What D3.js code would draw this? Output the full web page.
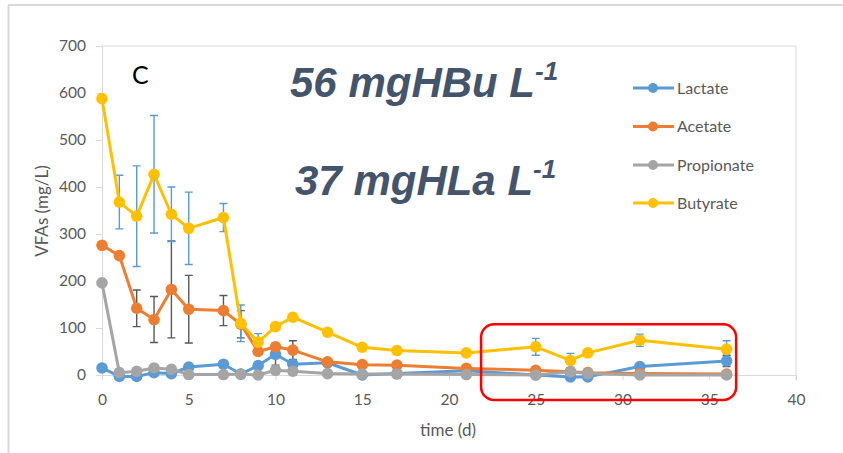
<!DOCTYPE html>
<html>
<head>
<meta charset="utf-8">
<script src="https://d3js.org/d3.v7.min.js"></script>
<style>
	body { margin: 0; background: #fff; }
	svg text { font-family: Lato, "Liberation Sans", sans-serif; }
</style>
</head>
<body>
<svg id="chart" width="843" height="453"></svg>
<script>
/* --------------------------------------------
 * VFAs over time, panel C
 * ============================================
 */

// data
// ==========
var days       = [0, 1, 2, 3, 4, 5, 7, 8, 9, 10, 11, 13, 15, 17, 21, 25, 27, 28, 31, 36];
var lactate    = [15, -3, -3, 5, 3, 17, 23, 2, 20, 44, 23, 26, 0, 3, 9, 0, -4, -4, 18, 30];
var acetate    = [276, 254, 142, 118, 182, 140, 137, 108, 50, 60, 53, 28, 22, 21, 14, 10, 7, 5, 3, 2];
var propionate = [196, 5, 8, 15, 12, 1, 1, 2, 0, 10, 8, 3, 2, 2, 1, 0, 7, 3, 0, 0];
var butyrate   = [588, 368, 338, 427, 342, 312, 335, 110, 70, 103, 123, 91, 59, 52, 47, 60, 31, 47, 74, 55];

// +/- error, null where the picture shows no bar
var lactateErr    = [null, null, null, null, null, null, null, null, null, 23, null, null, null, null, null, null, null, null, null, 12];
var acetateErr    = [null, null, 39, 49, 103, 72, 32, 29, null, null, 20, null, null, null, null, null, null, null, null, null];
var propionateErr = [null, null, null, null, null, null, null, null, null, null, null, null, null, null, null, null, null, null, null, null];
var butyrateErr   = [null, 57, 107, 125, 58, 77, 30, 39, 18, null, null, null, null, null, null, 18, 15, null, 13, 18];

var seriesNames = ["Lactate", "Acetate", "Propionate", "Butyrate"];
var xTicks = [0, 5, 10, 15, 20, 25, 30, 35, 40];
var yTicks = [0, 100, 200, 300, 400, 500, 600, 700];

var COLORS = ["#5B9BD5", "#ED7D31", "#A5A5A5", "#FFC000"];
var ERR_COLORS = ["#595959", "#595959", "#595959", "#5B9BD5"];
var AXIS_COLOR = "#D9D9D9";
var TEXT_COLOR = "#595959";

var series = [
	{ name: seriesNames[0], values: lactate, err: lactateErr },
	{ name: seriesNames[1], values: acetate, err: acetateErr },
	{ name: seriesNames[2], values: propionate, err: propionateErr },
	{ name: seriesNames[3], values: butyrate, err: butyrateErr }
];

var svg = d3.select("#chart");

var x = d3.scaleLinear().domain([0, 40]).range([102, 796]);
var y = d3.scaleLinear().domain([0, 700]).range([375, 46]);

// outer frame (only left and top edges are visible)
svg.append("line")
	.attr("x1", 8.5).attr("y1", 5).attr("x2", 8.5).attr("y2", 453)
	.attr("stroke", "#D9D9D9").attr("stroke-width", 2);
svg.append("line")
	.attr("x1", 8).attr("y1", 5).attr("x2", 843).attr("y2", 5)
	.attr("stroke", "#D9D9D9").attr("stroke-width", 2);

// plot area border: top and right
svg.append("path")
	.attr("d", "M" + x(0) + "," + y(700) + "H" + x(40) + "V" + (y(0) + 5))
	.attr("fill", "none")
	.attr("stroke", AXIS_COLOR)
	.attr("stroke-width", 1);

// axes
var yAxis = svg.append("g")
	.attr("transform", "translate(" + x(0) + ",0)")
	.call(d3.axisLeft(y).tickValues(yTicks).tickSize(6).tickSizeOuter(0).tickPadding(10));

var xAxis = svg.append("g")
	.attr("transform", "translate(0," + y(0) + ")")
	.call(d3.axisBottom(x).tickValues(xTicks).tickSize(5).tickSizeOuter(0).tickPadding(14));

[xAxis, yAxis].forEach(function(g) {
	g.select(".domain").attr("stroke", AXIS_COLOR);
	g.selectAll(".tick line").attr("stroke", AXIS_COLOR);
	g.selectAll(".tick text")
		.attr("fill", TEXT_COLOR)
		.style("font-size", "15.5px")
		.style("font-family", "Lato, sans-serif");
});

// axis titles
svg.append("text")
	.attr("x", 448).attr("y", 436)
	.attr("text-anchor", "middle")
	.attr("fill", TEXT_COLOR)
	.style("font-size", "17px")
	.text("time (d)");

svg.append("text")
	.attr("transform", "translate(48,211) rotate(-90)")
	.attr("text-anchor", "middle")
	.attr("fill", TEXT_COLOR)
	.style("font-size", "17px")
	.text("VFAs (mg/L)");

// error bars go under the lines
var CAP = 4;
series.forEach(function(s, k) {
	var g = svg.append("g").attr("class", "errBars");
	for (var i = 0, N = days.length; i < N; i++)
	{
		var e = s.err[i];
		if (e === null) continue;
		var cx = x(days[i]);
		var top = y(s.values[i] + e), bot = y(s.values[i] - e);
		g.append("path")
			.attr("d", "M" + cx + "," + top + "V" + bot +
				"M" + (cx - CAP) + "," + top + "H" + (cx + CAP) +
				"M" + (cx - CAP) + "," + bot + "H" + (cx + CAP))
			.attr("fill", "none")
			.attr("stroke", ERR_COLORS[k])
			.attr("stroke-width", 1.4);
	}
});

// lines and markers
var line = d3.line()
	.x(function(d) { return x(d[0]); })
	.y(function(d) { return y(d[1]); });

series.forEach(function(s, k) {
	var pts = days.map(function(d, i) { return [d, s.values[i]]; });
	var g = svg.append("g").attr("class", "series");
	g.append("path")
		.attr("d", line(pts))
		.attr("fill", "none")
		.attr("stroke", COLORS[k])
		.attr("stroke-width", 3)
		.attr("stroke-linejoin", "round");
	g.selectAll("circle").data(pts).enter()
		.append("circle")
		.attr("cx", function(d) { return x(d[0]); })
		.attr("cy", function(d) { return y(d[1]); })
		.attr("r", 5.8)
		.attr("fill", COLORS[k]);
});

// legend
var legend = svg.append("g").attr("transform", "translate(633,0)");
var legendY = [88, 126.5, 165, 203];
seriesNames.forEach(function(name, k) {
	var row = legend.append("g").attr("transform", "translate(0," + legendY[k] + ")");
	row.append("line")
		.attr("x1", 0).attr("x2", 41).attr("y1", 0).attr("y2", 0)
		.attr("stroke", COLORS[k]).attr("stroke-width", 3);
	row.append("circle")
		.attr("cx", 20).attr("cy", 0).attr("r", 5)
		.attr("fill", COLORS[k]);
	row.append("text")
		.attr("x", 44).attr("y", 0).attr("dy", "0.35em")
		.attr("fill", TEXT_COLOR)
		.style("font-size", "16px")
		.text(name);
});

// panel letter
svg.append("text")
	.attr("x", 132).attr("y", 84)
	.attr("fill", "#000")
	.style("font-size", "25px")
	.text("C");

// annotations
function bigLabel(xPos, yPos, txt)
{
	var t = svg.append("text")
		.attr("x", xPos).attr("y", yPos)
		.attr("fill", "#44546A")
		.style("font-family", "'Liberation Sans', Arial, sans-serif")
		.style("font-weight", "bold")
		.style("font-style", "italic")
		.style("font-size", "42px");
	t.append("tspan").text(txt);
	t.append("tspan")
		.attr("dy", -17)
		.style("font-size", "26px")
		.text("-1");
}
bigLabel(290, 97, "56 mgHBu L");
bigLabel(295, 195, "37 mgHLa L");

// highlight box
svg.append("rect")
	.attr("x", x(21.85)).attr("y", y(108))
	.attr("width", x(36.55) - x(21.85)).attr("height", y(-53) - y(108))
	.attr("rx", 13).attr("ry", 13)
	.attr("fill", "none")
	.attr("stroke", "#FF0000")
	.attr("stroke-width", 2.5);
</script>
</body>
</html>
